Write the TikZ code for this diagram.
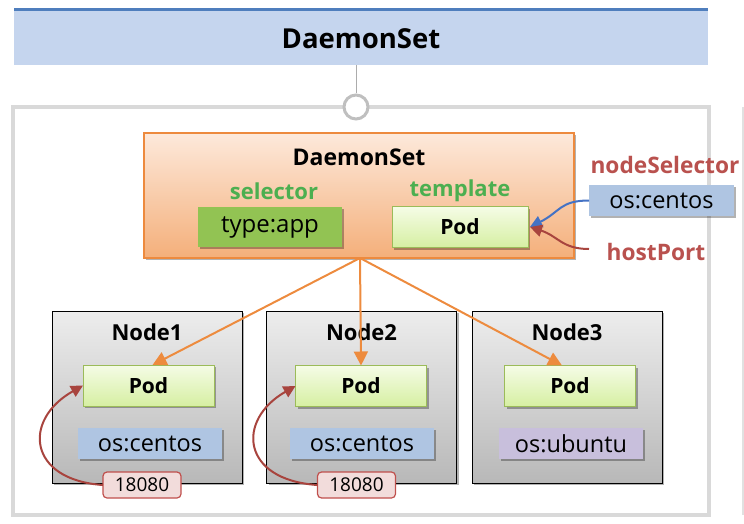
\documentclass[tikz,border=0pt]{standalone}
\usepackage{fontspec}
\setmainfont{Open Sans}
\usetikzlibrary{arrows.meta,shadows,calc}
\definecolor{barfill}{HTML}{C5D5EE}
\definecolor{barline}{HTML}{4F7EBD}
\definecolor{framegray}{HTML}{D9D9D9}
\definecolor{circgray}{HTML}{BFBFBF}
\definecolor{dstop}{HTML}{FDE9DB}
\definecolor{dsbot}{HTML}{F4AF7A}
\definecolor{dsborder}{HTML}{ED8A3E}
\definecolor{selgreen}{HTML}{92C353}
\definecolor{lblgreen}{HTML}{4CAF50}
\definecolor{podtop}{HTML}{F5FCE6}
\definecolor{podbot}{HTML}{D6EFA2}
\definecolor{podborder}{HTML}{9BBB59}
\definecolor{osblue}{HTML}{AFC5E2}
\definecolor{osviolet}{HTML}{C8BFDC}
\definecolor{nodetop}{HTML}{EDEDED}
\definecolor{nodebot}{HTML}{B8B8B8}
\definecolor{portfill}{HTML}{F2DCDB}
\definecolor{portborder}{HTML}{C0504D}
\definecolor{redtxt}{HTML}{B9514E}
\definecolor{arcred}{HTML}{A8443E}
\definecolor{arcblue}{HTML}{4472C4}
\definecolor{arroworange}{HTML}{ED8B3E}
\newcommand{\fsz}[1]{\fontsize{#1}{#1}\selectfont}
\tikzset{
  box/.style={inner sep=0pt, outer sep=0pt, anchor=center},
  shad/.style={drop shadow={shadow xshift=2pt, shadow yshift=-2pt, opacity=0.3, fill=black}},
  dsbox/.style={box, shad, draw=dsborder, line width=1.2pt, top color=dstop, bottom color=dsbot, minimum width=430pt, minimum height=125pt},
  typebox/.style={box, shad, fill=selgreen, minimum width=144pt, minimum height=40pt, font=\fsz{24}},
  podbox/.style={box, shad, draw=podborder, line width=1pt, top color=podtop, bottom color=podbot, minimum width=131pt, minimum height=41pt, font=\bfseries\fsz{21}},
  osbox/.style={box, shad, fill=osblue, minimum width=144pt, minimum height=31pt, font=\fsz{23.5}},
  nodebox/.style={box, shad, draw=black, line width=1pt, top color=nodetop, bottom color=nodebot, minimum width=190pt, minimum height=172pt},
  portbox/.style={box, draw=portborder, line width=1.2pt, fill=portfill, rounded corners=4pt, minimum width=78pt, minimum height=26pt, font=\fsz{19}},
  nodetitle/.style={font=\bfseries\fsz{22}, inner sep=0pt},
  greenlbl/.style={font=\bfseries\fsz{22}, text=lblgreen, inner sep=0pt},
  redlbl/.style={font=\bfseries\fsz{22.7}, text=redtxt, inner sep=0pt},
  orangearrow/.style={draw=arroworange, line width=2pt, -{Triangle[width=14pt,length=14pt]}},
  redarc/.style={draw=arcred, line width=2pt, -{Triangle[width=12pt,length=12pt]}},
  bluearc/.style={draw=arcblue, line width=2pt, -{Triangle[width=12pt,length=12pt]}},
}
\begin{document}
\begin{tikzpicture}[x=1pt,y=-1pt]
\useasboundingbox (0,0) rectangle (744,524);
% top bar
\node[box, fill=barfill, minimum width=694pt, minimum height=55pt] (bar) at (361,37.5) {};
\draw[barline, line width=3pt] (bar.north west) -- (bar.north east);
\node[font=\bfseries\fsz{27.5}, inner sep=0pt] (bartitle) at (361,39) {DaemonSet};
% outer frame
\draw[framegray, line width=4pt] (13,107) rectangle (709,515);
\draw[framegray!80, line width=3pt] (743,107) -- (743,515);
\node[circle, draw=circgray, fill=white, line width=3pt, minimum size=24pt, inner sep=0pt] (circ) at (356,107) {};
\draw[circgray!90!black, line width=0.8pt] (circ.north) -- (circ.north |- bar.south);
% DaemonSet box
\node[dsbox] (ds) at (359,195.5) {};
\node[font=\bfseries\fsz{23}, inner sep=0pt] (dstitle) at (359,157) {DaemonSet};
\node[greenlbl] (sel) at (274,191) {selector};
\node[greenlbl] (tmpl) at (460,191) {template};
\node[typebox] (type) at (270,227) {type:app};
\node[podbox, minimum width=136pt] (tpod) at (460,227) {Pod};
% right labels
\node[redlbl] (nsel) at (665,165) {nodeSelector};
\node[osbox, minimum width=145pt] (oscent) at (661.5,200.5) {os:centos};
\node[redlbl] (hport) at (656,252) {hostPort};
\coordinate (hps) at (589,249);
% nodes
\node[nodebox] (n1) at (147,397) {};
\node[nodebox] (n2) at (361.5,397) {};
\node[nodebox] (n3) at (567,397) {};
\node[nodetitle] (t1) at (147,332) {Node1};
\node[nodetitle] (t2) at (361.5,332) {Node2};
\node[nodetitle] (t3) at (567,332) {Node3};
\node[podbox] (p1) at (148.5,385.5) {Pod};
\node[podbox] (p2) at (361,386) {Pod};
\node[podbox] (p3) at (570,386) {Pod};
\node[osbox] (o1) at (150,443.5) {os:centos};
\node[osbox] (o2) at (362,443.5) {os:centos};
\node[osbox, fill=osviolet] (o3) at (571,443.5) {os:ubuntu};
\node[portbox] (port1) at (142,485) {18080};
\node[portbox] (port2) at (356.5,485) {18080};
% orange arrows
\coordinate (apex) at (360,258);
\draw[orangearrow] (apex) -- ([xshift=4pt]p1.north);
\draw[orangearrow] (apex) -- (p2.north);
\draw[orangearrow] (apex) -- ([xshift=-8pt]p3.north);
% red arcs to pods
\draw[redarc] (port1.west) .. controls (28,480) and (22,420) .. (p1.west);
\draw[redarc] (port2.west) .. controls (241,480) and (236,420) .. (p2.west);
% selector / hostPort curves
\draw[bluearc] (oscent.west) .. controls (560,200.5) and (560,212) .. ([xshift=2pt]tpod.east);
\draw[redarc] (hps) .. controls (562,249) and (558,236) .. ([xshift=2pt]tpod.east);
\end{tikzpicture}
\end{document}
